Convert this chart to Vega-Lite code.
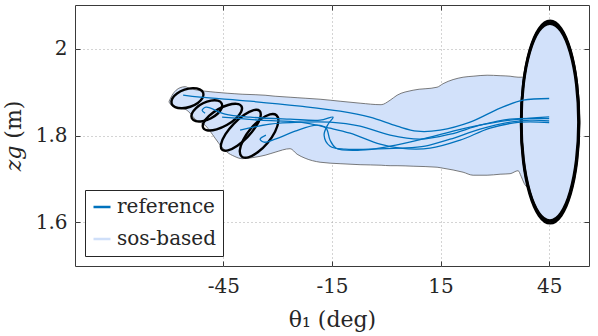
{
  "$schema": "https://vega.github.io/schema/vega-lite/v6.json",
  "width": 514,
  "height": 261,
  "autosize": {"type": "none"},
  "padding": {"left": 75, "top": 5, "right": 9, "bottom": 70},
  "background": "white",
  "config": {
    "font": "DejaVu Serif",
    "view": {"stroke": "#3a3a3a", "strokeWidth": 1},
    "axis": {
      "labelFont": "DejaVu Serif", "titleFont": "DejaVu Serif",
      "labelFontSize": 20, "labelColor": "#262626",
      "titleFontSize": 22, "titleFontWeight": "normal", "titleColor": "#262626",
      "domain": false, "grid": true, "gridDash": [1, 3], "gridColor": "#a8a8a8", "gridWidth": 1,
      "tickColor": "#3a3a3a", "tickSize": -5, "tickWidth": 1
    }
  },
  "resolve": {"axis": {"x": "independent", "y": "independent"}},
  "datasets": {
    "band": [
      {"x": -60.0, "top": 1.8789, "bot": 1.8766},
      {"x": -59.17, "top": 1.8926, "bot": 1.8674},
      {"x": -58.07, "top": 1.9041, "bot": 1.8639},
      {"x": -56.96, "top": 1.9099, "bot": 1.8628},
      {"x": -55.58, "top": 1.9122, "bot": 1.8605},
      {"x": -54.20, "top": 1.9076, "bot": 1.8513},
      {"x": -52.82, "top": 1.9053, "bot": 1.8375},
      {"x": -51.44, "top": 1.9030, "bot": 1.8306},
      {"x": -50.06, "top": 1.9018, "bot": 1.8237},
      {"x": -48.67, "top": 1.9007, "bot": 1.8099},
      {"x": -47.29, "top": 1.8995, "bot": 1.7938},
      {"x": -45.64, "top": 1.8984, "bot": 1.7754},
      {"x": -43.98, "top": 1.8972, "bot": 1.7616},
      {"x": -42.04, "top": 1.8961, "bot": 1.7524},
      {"x": -39.83, "top": 1.8949, "bot": 1.7467},
      {"x": -36.24, "top": 1.8938, "bot": 1.7501},
      {"x": -33.48, "top": 1.8926, "bot": 1.7547},
      {"x": -30.72, "top": 1.8903, "bot": 1.7616},
      {"x": -26.57, "top": 1.8880, "bot": 1.7697},
      {"x": -24.64, "top": 1.8869, "bot": 1.7570},
      {"x": -22.43, "top": 1.8857, "bot": 1.7478},
      {"x": -18.29, "top": 1.8834, "bot": 1.7386},
      {"x": -12.76, "top": 1.8788, "bot": 1.7352},
      {"x": -7.24, "top": 1.8743, "bot": 1.7329},
      {"x": -1.44, "top": 1.8708, "bot": 1.7317},
      {"x": 1.05, "top": 1.8811, "bot": 1.7306},
      {"x": 2.98, "top": 1.8926, "bot": 1.7306},
      {"x": 7.40, "top": 1.9041, "bot": 1.7294},
      {"x": 14.03, "top": 1.9110, "bot": 1.7271},
      {"x": 15.69, "top": 1.9191, "bot": 1.7248},
      {"x": 21.22, "top": 1.9340, "bot": 1.7156},
      {"x": 23.98, "top": 1.9363, "bot": 1.7087},
      {"x": 27.85, "top": 1.9386, "bot": 1.7087},
      {"x": 31.44, "top": 1.9375, "bot": 1.7110},
      {"x": 34.20, "top": 1.9363, "bot": 1.7122},
      {"x": 36.41, "top": 1.9340, "bot": 1.7191},
      {"x": 37.24, "top": 1.9340, "bot": 1.7064},
      {"x": 38.07, "top": 1.9352, "bot": 1.6903},
      {"x": 38.62, "top": 1.9625, "bot": 1.6834},
      {"x": 39.17, "top": 1.9834, "bot": 1.6800},
      {"x": 40.00, "top": 2.0074, "bot": 1.6582},
      {"x": 41.10, "top": 2.0306, "bot": 1.6352},
      {"x": 42.49, "top": 2.0497, "bot": 1.6161},
      {"x": 43.87, "top": 2.0605, "bot": 1.6053},
      {"x": 45.25, "top": 2.0639, "bot": 1.6018},
      {"x": 46.63, "top": 2.0605, "bot": 1.6053},
      {"x": 48.01, "top": 2.0497, "bot": 1.6161},
      {"x": 49.39, "top": 2.0306, "bot": 1.6352},
      {"x": 50.50, "top": 2.0074, "bot": 1.6584},
      {"x": 51.33, "top": 1.9834, "bot": 1.6823},
      {"x": 51.88, "top": 1.9625, "bot": 1.7032},
      {"x": 52.43, "top": 1.9352, "bot": 1.7306},
      {"x": 52.98, "top": 1.8931, "bot": 1.7726},
      {"x": 53.18, "top": 1.8660, "bot": 1.7998},
      {"x": 53.26, "top": 1.8329, "bot": 1.8329}
    ],
    "ell": [
      {"id": "E1", "i": 0, "x": -50.57, "z": 1.8980},
      {"id": "E1", "i": 1, "x": -50.76, "z": 1.8865},
      {"id": "E1", "i": 2, "x": -52.07, "z": 1.8749},
      {"id": "E1", "i": 3, "x": -54.15, "z": 1.8661},
      {"id": "E1", "i": 4, "x": -56.44, "z": 1.8626},
      {"id": "E1", "i": 5, "x": -58.33, "z": 1.8653},
      {"id": "E1", "i": 6, "x": -59.31, "z": 1.8735},
      {"id": "E1", "i": 7, "x": -59.12, "z": 1.8849},
      {"id": "E1", "i": 8, "x": -57.81, "z": 1.8965},
      {"id": "E1", "i": 9, "x": -55.73, "z": 1.9053},
      {"id": "E1", "i": 10, "x": -53.44, "z": 1.9088},
      {"id": "E1", "i": 11, "x": -51.55, "z": 1.9061},
      {"id": "E2", "i": 0, "x": -45.46, "z": 1.8737},
      {"id": "E2", "i": 1, "x": -45.49, "z": 1.8627},
      {"id": "E2", "i": 2, "x": -46.62, "z": 1.8500},
      {"id": "E2", "i": 3, "x": -48.54, "z": 1.8391},
      {"id": "E2", "i": 4, "x": -50.75, "z": 1.8329},
      {"id": "E2", "i": 5, "x": -52.64, "z": 1.8330},
      {"id": "E2", "i": 6, "x": -53.72, "z": 1.8395},
      {"id": "E2", "i": 7, "x": -53.69, "z": 1.8505},
      {"id": "E2", "i": 8, "x": -52.56, "z": 1.8632},
      {"id": "E2", "i": 9, "x": -50.64, "z": 1.8741},
      {"id": "E2", "i": 10, "x": -48.43, "z": 1.8803},
      {"id": "E2", "i": 11, "x": -46.54, "z": 1.8802},
      {"id": "E3", "i": 0, "x": -39.99, "z": 1.8670},
      {"id": "E3", "i": 1, "x": -40.09, "z": 1.8547},
      {"id": "E3", "i": 2, "x": -41.58, "z": 1.8390},
      {"id": "E3", "i": 3, "x": -44.06, "z": 1.8241},
      {"id": "E3", "i": 4, "x": -46.87, "z": 1.8141},
      {"id": "E3", "i": 5, "x": -49.25, "z": 1.8116},
      {"id": "E3", "i": 6, "x": -50.57, "z": 1.8172},
      {"id": "E3", "i": 7, "x": -50.47, "z": 1.8296},
      {"id": "E3", "i": 8, "x": -48.98, "z": 1.8452},
      {"id": "E3", "i": 9, "x": -46.50, "z": 1.8601},
      {"id": "E3", "i": 10, "x": -43.70, "z": 1.8701},
      {"id": "E3", "i": 11, "x": -41.31, "z": 1.8727},
      {"id": "E4", "i": 0, "x": -35.01, "z": 1.8568},
      {"id": "E4", "i": 1, "x": -34.76, "z": 1.8433},
      {"id": "E4", "i": 2, "x": -35.96, "z": 1.8214},
      {"id": "E4", "i": 3, "x": -38.30, "z": 1.7970},
      {"id": "E4", "i": 4, "x": -41.15, "z": 1.7767},
      {"id": "E4", "i": 5, "x": -43.74, "z": 1.7660},
      {"id": "E4", "i": 6, "x": -45.37, "z": 1.7676},
      {"id": "E4", "i": 7, "x": -45.62, "z": 1.7811},
      {"id": "E4", "i": 8, "x": -44.42, "z": 1.8030},
      {"id": "E4", "i": 9, "x": -42.08, "z": 1.8274},
      {"id": "E4", "i": 10, "x": -39.23, "z": 1.8477},
      {"id": "E4", "i": 11, "x": -36.65, "z": 1.8584},
      {"id": "E5", "i": 0, "x": -30.34, "z": 1.8466},
      {"id": "E5", "i": 1, "x": -29.82, "z": 1.8322},
      {"id": "E5", "i": 2, "x": -30.73, "z": 1.8088},
      {"id": "E5", "i": 3, "x": -32.81, "z": 1.7828},
      {"id": "E5", "i": 4, "x": -35.52, "z": 1.7613},
      {"id": "E5", "i": 5, "x": -38.13, "z": 1.7498},
      {"id": "E5", "i": 6, "x": -39.94, "z": 1.7516},
      {"id": "E5", "i": 7, "x": -40.46, "z": 1.7661},
      {"id": "E5", "i": 8, "x": -39.55, "z": 1.7894},
      {"id": "E5", "i": 9, "x": -37.47, "z": 1.8154},
      {"id": "E5", "i": 10, "x": -34.76, "z": 1.8370},
      {"id": "E5", "i": 11, "x": -32.15, "z": 1.8484},
      {"id": "RA", "i": 0, "x": 53.25, "z": 1.8330},
      {"id": "RA", "i": 1, "x": 52.64, "z": 1.9215},
      {"id": "RA", "i": 2, "x": 50.91, "z": 1.9963},
      {"id": "RA", "i": 3, "x": 48.31, "z": 2.0464},
      {"id": "RA", "i": 4, "x": 45.25, "z": 2.0640},
      {"id": "RA", "i": 5, "x": 42.19, "z": 2.0464},
      {"id": "RA", "i": 6, "x": 39.59, "z": 1.9963},
      {"id": "RA", "i": 7, "x": 37.86, "z": 1.9215},
      {"id": "RA", "i": 8, "x": 37.25, "z": 1.8330},
      {"id": "RA", "i": 9, "x": 37.86, "z": 1.7445},
      {"id": "RA", "i": 10, "x": 39.59, "z": 1.6697},
      {"id": "RA", "i": 11, "x": 42.19, "z": 1.6196},
      {"id": "RA", "i": 12, "x": 45.25, "z": 1.6020},
      {"id": "RA", "i": 13, "x": 48.31, "z": 1.6196},
      {"id": "RA", "i": 14, "x": 50.91, "z": 1.6697},
      {"id": "RA", "i": 15, "x": 52.64, "z": 1.7445},
      {"id": "RB", "i": 0, "x": 53.05, "z": 1.8310},
      {"id": "RB", "i": 1, "x": 52.45, "z": 1.9176},
      {"id": "RB", "i": 2, "x": 50.75, "z": 1.9908},
      {"id": "RB", "i": 3, "x": 48.21, "z": 2.0398},
      {"id": "RB", "i": 4, "x": 45.20, "z": 2.0570},
      {"id": "RB", "i": 5, "x": 42.19, "z": 2.0398},
      {"id": "RB", "i": 6, "x": 39.65, "z": 1.9908},
      {"id": "RB", "i": 7, "x": 37.95, "z": 1.9176},
      {"id": "RB", "i": 8, "x": 37.35, "z": 1.8310},
      {"id": "RB", "i": 9, "x": 37.95, "z": 1.7444},
      {"id": "RB", "i": 10, "x": 39.65, "z": 1.6712},
      {"id": "RB", "i": 11, "x": 42.19, "z": 1.6222},
      {"id": "RB", "i": 12, "x": 45.20, "z": 1.6050},
      {"id": "RB", "i": 13, "x": 48.21, "z": 1.6222},
      {"id": "RB", "i": 14, "x": 50.75, "z": 1.6712},
      {"id": "RB", "i": 15, "x": 52.45, "z": 1.7444},
      {"id": "RC", "i": 0, "x": 53.30, "z": 1.8290},
      {"id": "RC", "i": 1, "x": 52.69, "z": 1.9175},
      {"id": "RC", "i": 2, "x": 50.94, "z": 1.9923},
      {"id": "RC", "i": 3, "x": 48.33, "z": 2.0424},
      {"id": "RC", "i": 4, "x": 45.25, "z": 2.0600},
      {"id": "RC", "i": 5, "x": 42.17, "z": 2.0424},
      {"id": "RC", "i": 6, "x": 39.56, "z": 1.9923},
      {"id": "RC", "i": 7, "x": 37.81, "z": 1.9175},
      {"id": "RC", "i": 8, "x": 37.20, "z": 1.8290},
      {"id": "RC", "i": 9, "x": 37.81, "z": 1.7405},
      {"id": "RC", "i": 10, "x": 39.56, "z": 1.6657},
      {"id": "RC", "i": 11, "x": 42.17, "z": 1.6156},
      {"id": "RC", "i": 12, "x": 45.25, "z": 1.5980},
      {"id": "RC", "i": 13, "x": 48.33, "z": 1.6156},
      {"id": "RC", "i": 14, "x": 50.94, "z": 1.6657},
      {"id": "RC", "i": 15, "x": 52.69, "z": 1.7405}
    ],
    "traj": [
      {"id": "A", "i": 0, "x": -56.13, "z": 1.8926, "series": "reference"},
      {"id": "A", "i": 1, "x": -51.44, "z": 1.8880, "series": "reference"},
      {"id": "A", "i": 2, "x": -37.62, "z": 1.8789, "series": "reference"},
      {"id": "A", "i": 3, "x": -23.81, "z": 1.8674, "series": "reference"},
      {"id": "A", "i": 4, "x": -12.76, "z": 1.8559, "series": "reference"},
      {"id": "A", "i": 5, "x": -4.53, "z": 1.8421, "series": "reference"},
      {"id": "A", "i": 6, "x": 2.98, "z": 1.8214, "series": "reference"},
      {"id": "A", "i": 7, "x": 8.51, "z": 1.8099, "series": "reference"},
      {"id": "A", "i": 8, "x": 14.86, "z": 1.8122, "series": "reference"},
      {"id": "A", "i": 9, "x": 23.15, "z": 1.8306, "series": "reference"},
      {"id": "A", "i": 10, "x": 31.44, "z": 1.8628, "series": "reference"},
      {"id": "A", "i": 11, "x": 37.79, "z": 1.8811, "series": "reference"},
      {"id": "A", "i": 12, "x": 45.0, "z": 1.8851, "series": "reference"},
      {"id": "B", "i": 0, "x": -50.06, "z": 1.8513, "series": "reference"},
      {"id": "B", "i": 1, "x": -50.88, "z": 1.8582, "series": "reference"},
      {"id": "B", "i": 2, "x": -49.78, "z": 1.8651, "series": "reference"},
      {"id": "B", "i": 3, "x": -44.53, "z": 1.8490, "series": "reference"},
      {"id": "B", "i": 4, "x": -37.62, "z": 1.8421, "series": "reference"},
      {"id": "B", "i": 5, "x": -26.57, "z": 1.8375, "series": "reference"},
      {"id": "B", "i": 6, "x": -18.29, "z": 1.8352, "series": "reference"},
      {"id": "B", "i": 7, "x": -14.70, "z": 1.8421, "series": "reference"},
      {"id": "B", "i": 8, "x": -16.08, "z": 1.8260, "series": "reference"},
      {"id": "B", "i": 9, "x": -17.18, "z": 1.8007, "series": "reference"},
      {"id": "B", "i": 10, "x": -15.52, "z": 1.7754, "series": "reference"},
      {"id": "B", "i": 11, "x": -11.38, "z": 1.7685, "series": "reference"},
      {"id": "B", "i": 12, "x": -4.53, "z": 1.7685, "series": "reference"},
      {"id": "B", "i": 13, "x": 3.81, "z": 1.7708, "series": "reference"},
      {"id": "B", "i": 14, "x": 10.72, "z": 1.7754, "series": "reference"},
      {"id": "B", "i": 15, "x": 17.62, "z": 1.7915, "series": "reference"},
      {"id": "B", "i": 16, "x": 25.91, "z": 1.8145, "series": "reference"},
      {"id": "B", "i": 17, "x": 34.20, "z": 1.8306, "series": "reference"},
      {"id": "B", "i": 18, "x": 39.72, "z": 1.8352, "series": "reference"},
      {"id": "B", "i": 19, "x": 45.0, "z": 1.8336, "series": "reference"},
      {"id": "C", "i": 0, "x": -45.36, "z": 1.8421, "series": "reference"},
      {"id": "C", "i": 1, "x": -34.86, "z": 1.8352, "series": "reference"},
      {"id": "C", "i": 2, "x": -23.81, "z": 1.8306, "series": "reference"},
      {"id": "C", "i": 3, "x": -15.52, "z": 1.8168, "series": "reference"},
      {"id": "C", "i": 4, "x": -10.00, "z": 1.8053, "series": "reference"},
      {"id": "C", "i": 5, "x": -1.71, "z": 1.7800, "series": "reference"},
      {"id": "C", "i": 6, "x": 3.81, "z": 1.7708, "series": "reference"},
      {"id": "C", "i": 7, "x": 12.10, "z": 1.7708, "series": "reference"},
      {"id": "C", "i": 8, "x": 20.39, "z": 1.7892, "series": "reference"},
      {"id": "C", "i": 9, "x": 28.67, "z": 1.8168, "series": "reference"},
      {"id": "C", "i": 10, "x": 36.96, "z": 1.8306, "series": "reference"},
      {"id": "C", "i": 11, "x": 45.0, "z": 1.8299, "series": "reference"},
      {"id": "D", "i": 0, "x": -40.39, "z": 1.8122, "series": "reference"},
      {"id": "D", "i": 1, "x": -32.15, "z": 1.8260, "series": "reference"},
      {"id": "D", "i": 2, "x": -23.81, "z": 1.8306, "series": "reference"},
      {"id": "D", "i": 3, "x": -15.52, "z": 1.8306, "series": "reference"},
      {"id": "D", "i": 4, "x": -7.24, "z": 1.8214, "series": "reference"},
      {"id": "D", "i": 5, "x": 1.05, "z": 1.8007, "series": "reference"},
      {"id": "D", "i": 6, "x": 9.34, "z": 1.7915, "series": "reference"},
      {"id": "D", "i": 7, "x": 17.62, "z": 1.8030, "series": "reference"},
      {"id": "D", "i": 8, "x": 25.91, "z": 1.8237, "series": "reference"},
      {"id": "D", "i": 9, "x": 34.20, "z": 1.8375, "series": "reference"},
      {"id": "D", "i": 10, "x": 45.0, "z": 1.8386, "series": "reference"},
      {"id": "E", "i": 0, "x": -33.26, "z": 1.8007, "series": "reference"},
      {"id": "E", "i": 1, "x": -34.86, "z": 1.7915, "series": "reference"},
      {"id": "E", "i": 2, "x": -33.76, "z": 1.7846, "series": "reference"},
      {"id": "E", "i": 3, "x": -30.72, "z": 1.7915, "series": "reference"},
      {"id": "E", "i": 4, "x": -25.19, "z": 1.8099, "series": "reference"},
      {"id": "E", "i": 5, "x": -19.12, "z": 1.8237, "series": "reference"},
      {"id": "E", "i": 6, "x": -16.63, "z": 1.8168, "series": "reference"},
      {"id": "E", "i": 7, "x": -15.52, "z": 1.7892, "series": "reference"},
      {"id": "E", "i": 8, "x": -13.87, "z": 1.7708, "series": "reference"},
      {"id": "E", "i": 9, "x": -7.24, "z": 1.7662, "series": "reference"},
      {"id": "E", "i": 10, "x": 1.05, "z": 1.7754, "series": "reference"},
      {"id": "E", "i": 11, "x": 12.10, "z": 1.7961, "series": "reference"},
      {"id": "E", "i": 12, "x": 23.15, "z": 1.8191, "series": "reference"},
      {"id": "E", "i": 13, "x": 34.20, "z": 1.8352, "series": "reference"},
      {"id": "E", "i": 14, "x": 45.0, "z": 1.8428, "series": "reference"}
    ]
  },
  "layer": [
    {
      "data": {"name": "band"},
      "mark": {"type": "area", "fill": "#d2e1fa", "stroke": "#5a5a5a", "strokeWidth": 0.8, "interpolate": "monotone"},
      "encoding": {
        "x": {"field": "x", "type": "quantitative",
              "scale": {"domain": [-86, 56], "nice": false, "zero": false},
              "axis": {"values": [-45, -15, 15, 45], "labelExpr": "'' + datum.value", "title": "θ₁ (deg)",
                       "labelPadding": 15, "titlePadding": 13}},
        "y": {"field": "top", "type": "quantitative",
              "scale": {"domain": [1.5, 2.1], "nice": false, "zero": false},
              "axis": {"values": [1.6, 1.8, 2], "labelExpr": "'' + datum.value", "title": "𝑧𝑔 (m)",
                       "labelPadding": 13, "titlePadding": 10}},
        "y2": {"field": "bot"}
      }
    },
    {
      "data": {"name": "ell"},
      "mark": {"type": "line", "color": "black", "strokeWidth": 2.4, "interpolate": "cardinal-closed"},
      "encoding": {
        "x": {"field": "x", "type": "quantitative",
              "axis": {"orient": "top", "values": [-45, -15, 15, 45], "labels": false, "title": null, "grid": false}},
        "y": {"field": "z", "type": "quantitative",
              "axis": {"orient": "right", "values": [1.6, 1.8, 2], "labels": false, "title": null, "grid": false}},
        "detail": {"field": "id"},
        "order": {"field": "i", "type": "quantitative"}
      }
    },
    {
      "data": {"name": "traj"},
      "mark": {"type": "line", "strokeWidth": 1.3, "interpolate": "catmull-rom"},
      "encoding": {
        "x": {"field": "x", "type": "quantitative", "axis": null},
        "y": {"field": "z", "type": "quantitative", "axis": null},
        "detail": {"field": "id"},
        "order": {"field": "i", "type": "quantitative"},
        "color": {"field": "series", "type": "nominal",
                  "scale": {"domain": ["reference", "sos-based"], "range": ["#0072BD", "#cfdff9"]},
                  "legend": {"orient": "bottom-left", "offset": 10, "title": null, "symbolType": "stroke",
                             "symbolSize": 289, "symbolStrokeWidth": 2.5, "labelFont": "DejaVu Serif",
                             "labelFontSize": 20, "labelColor": "#262626", "strokeColor": "#262626",
                             "fillColor": "white", "padding": 7, "rowPadding": 12, "labelOffset": 5}}
      }
    }
  ]
}
